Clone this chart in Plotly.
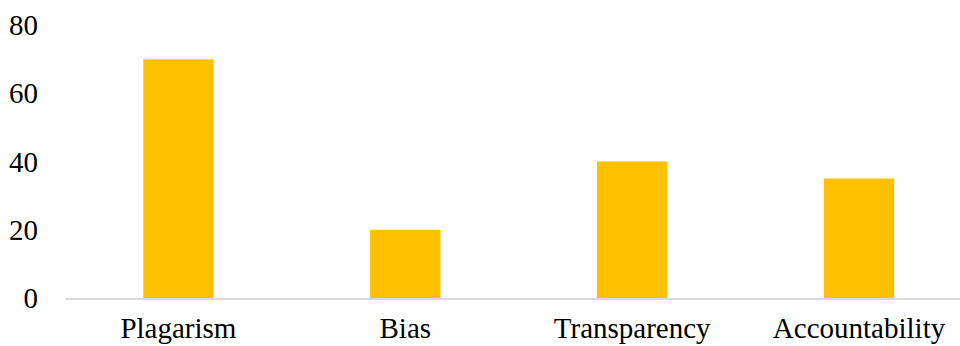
import plotly.graph_objects as go

categories = ["Plagarism", "Bias", "Transparency", "Accountability"]
values = [70, 20, 40, 35]
y_ticks = [0, 20, 40, 60, 80]

fig = go.Figure(
    go.Bar(
        x=categories,
        y=values,
        marker=dict(color="#FFC000", line=dict(width=0)),
        width=0.31,
    )
)

font = dict(family="Liberation Serif, Times New Roman, serif", size=29, color="#000000")

fig.update_layout(
    width=960,
    height=346,
    margin=dict(l=65, r=0, t=25, b=48),
    paper_bgcolor="white",
    plot_bgcolor="white",
    showlegend=False,
    font=font,
)
fig.update_xaxes(
    range=[-0.5, 3.445],
    showline=True,
    linecolor="#D9D9D9",
    linewidth=1.5,
    showgrid=False,
    ticks="",
    tickfont=font,
    ticklabelstandoff=3,
    automargin=False,
)
fig.update_yaxes(
    range=[0, 80],
    tickvals=y_ticks,
    showgrid=False,
    zeroline=False,
    showline=False,
    ticks="",
    tickfont=font,
    ticklabelstandoff=26,
    automargin=False,
)

fig.write_html("out.html")
